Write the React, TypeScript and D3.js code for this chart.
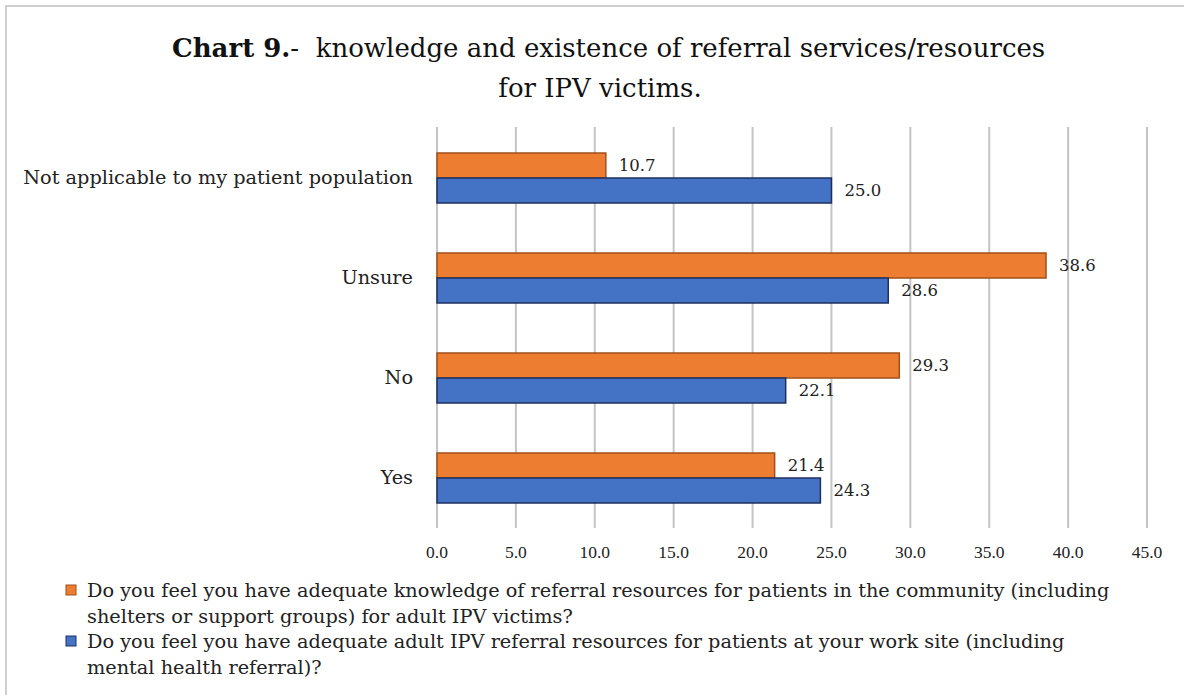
import React from "react";
import * as d3 from "d3";

const categories = ["Not applicable to my patient population", "Unsure", "No", "Yes"];
const knowledgeValues = [10.7, 38.6, 29.3, 21.4];
const resourcesValues = [25.0, 28.6, 22.1, 24.3];
const xTicks = [0, 5, 10, 15, 20, 25, 30, 35, 40, 45];
const seriesNames = ["knowledge", "resources"];
const legendLines = [
  [
    "Do you feel you have adequate knowledge of referral resources for patients in the community (including",
    "shelters or support groups) for adult IPV victims?",
  ],
  [
    "Do you feel you have adequate adult IPV referral resources for patients at your work site (including",
    "mental health referral)?",
  ],
];

const W = 1184;
const H = 695;
const FONT = "'DejaVu Serif', serif";
const NARROW = "'Liberation Serif', serif";

export default function App() {
  const x = d3.scaleLinear().domain([0, 45]).range([437, 1147]);
  const y = d3.scaleBand<string>().domain(categories).range([128, 528]).paddingInner(0.5).paddingOuter(0.25);
  const sub = d3.scaleBand<string>().domain(seriesNames).range([0, y.bandwidth()]);
  const fills = ["#ED7D31", "#4472C4"];
  const strokes = ["#A0501A", "#1F3060"];
  const series = [knowledgeValues, resourcesValues];

  return (
    <svg width={W} height={H} style={{ position: "absolute", left: 0, top: 0, background: "#fff" }} fontFamily={FONT}>
      <rect x={6} y={6} width={W + 10} height={H + 10} fill="#fff" stroke="#cfcfcf" strokeWidth={2} />
      <text x={172} y={57} fontSize={26} fill="#111" style={{ whiteSpace: "pre" }}>
        <tspan fontWeight="bold">Chart 9.</tspan>
        <tspan>{"-  knowledge and existence of referral services/resources"}</tspan>
      </text>
      <text x={600} y={97} fontSize={26} fill="#111" textAnchor="middle">for IPV victims.</text>

      {xTicks.map((t) => (
        <g key={t}>
          <line x1={x(t)} x2={x(t)} y1={127} y2={528} stroke="#c4c4c4" strokeWidth={2} />
          <text x={x(t)} y={558} fontSize={17.5} fontFamily={NARROW} textAnchor="middle" fill="#222">{t.toFixed(1)}</text>
        </g>
      ))}

      {categories.map((c, i) => (
        <g key={c}>
          <text x={413} y={(y(c) as number) + y.bandwidth() / 2 + 6} fontSize={19.3} textAnchor="end" fill="#222">{c}</text>
          {series.map((vals, s) => {
            const by = (y(c) as number) + (sub(seriesNames[s]) as number);
            return (
              <g key={s}>
                <rect x={x(0)} y={by} width={x(vals[i]) - x(0)} height={sub.bandwidth()} fill={fills[s]} stroke={strokes[s]} strokeWidth={1.5} />
                <text x={x(vals[i]) + 13} y={by + sub.bandwidth() / 2 + 5} fontSize={16.5} fill="#222">{vals[i].toFixed(1)}</text>
              </g>
            );
          })}
        </g>
      ))}

      {legendLines.map((lines, s) => (
        <g key={s}>
          <rect x={66} y={585 + s * 51} width={10} height={10} fill={fills[s]} stroke={strokes[s]} strokeWidth={1} />
          {lines.map((l, k) => (
            <text key={k} x={87} y={597 + s * 51 + k * 26} fontSize={19.3} fill="#222">{l}</text>
          ))}
        </g>
      ))}
    </svg>
  );
}
